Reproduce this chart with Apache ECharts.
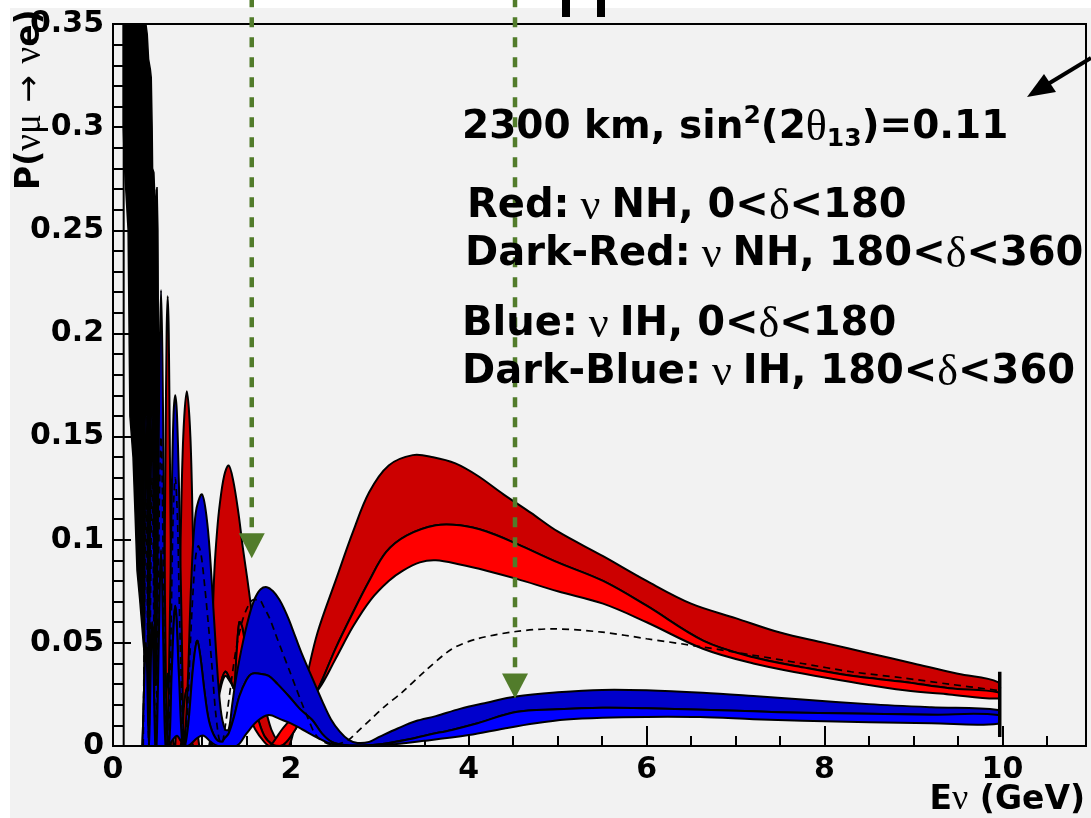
<!DOCTYPE html>
<html>
<head>
<meta charset="utf-8">
<title>P(numu -> nue) 2300 km</title>
<script src="https://cdn.jsdelivr.net/npm/echarts@6.0.0/dist/echarts.min.js"></script>
<style>
  html, body { margin: 0; padding: 0; background: #f2f2f2; }
  #chart { width: 1091px; height: 818px; }
</style>
</head>
<body>
<div id="chart"></div>
<script>
// values: [E (GeV), P]
const nhTop = [[0.47,0.20],[0.488,0.27],[0.505,0.20],[0.525,0.06],[0.55,0.0],[0.57,0.05],[0.59,0.14],[0.603,0.20],[0.615,0.218],[0.627,0.20],[0.64,0.14],[0.66,0.05],[0.68,0.0],[0.70,0.0],[0.73,0.04],[0.76,0.10],[0.79,0.15],[0.83,0.172],[0.87,0.15],[0.90,0.10],[0.935,0.04],[0.97,0.0],[1.08,0.0],[1.10,0.02],[1.12,0.06],[1.14,0.085],[1.17,0.104],[1.20,0.117],[1.25,0.131],[1.30,0.136],[1.35,0.129],[1.41,0.113],[1.46,0.096],[1.51,0.081],[1.55,0.068],[1.60,0.050],[1.65,0.034],[1.70,0.021],[1.78,0.008],[1.86,0.002],[1.93,0.0003],[1.98,0.0],[2.05,0.011],[2.17,0.032],[2.30,0.055],[2.51,0.081],[2.70,0.104],[2.88,0.123],[3.10,0.136],[3.37,0.141],[3.60,0.140],[3.85,0.137],[4.10,0.131],[4.39,0.122],[4.70,0.113],[5.00,0.104],[5.51,0.092],[6.00,0.080],[6.50,0.069],[7.00,0.062],[7.50,0.055],[8.00,0.050],[8.50,0.045],[9.00,0.040],[9.50,0.035],[9.95,0.031]];
const nhMid = [[0.47,0.0],[0.58,0.0],[0.60,0.025],[0.615,0.035],[0.63,0.025],[0.65,0.0],[0.76,0.0],[0.80,0.02],[0.83,0.028],[0.86,0.02],[0.90,0.0],[1.09,0.0],[1.14,0.012],[1.20,0.028],[1.26,0.036],[1.32,0.032],[1.36,0.028],[1.39,0.045],[1.42,0.060],[1.45,0.058],[1.49,0.048],[1.55,0.030],[1.62,0.015],[1.70,0.005],[1.80,0.0005],[1.88,0.0],[1.95,0.002],[2.05,0.008],[2.15,0.016],[2.32,0.029],[2.50,0.047],[2.69,0.064],[2.88,0.080],[3.07,0.094],[3.30,0.102],[3.63,0.107],[3.90,0.107],[4.20,0.104],[4.54,0.098],[5.00,0.089],[5.51,0.080],[6.00,0.068],[6.64,0.051],[7.20,0.043],[7.77,0.038],[8.30,0.034],[8.90,0.031],[9.40,0.028],[9.95,0.026]];
const nhLow = [[0.47,0.0],[1.09,0.0],[1.14,0.010],[1.20,0.026],[1.26,0.034],[1.32,0.031],[1.36,0.028],[1.40,0.027],[1.45,0.024],[1.52,0.016],[1.60,0.008],[1.70,0.002],[1.76,0.0],[1.82,0.003],[1.90,0.008],[2.00,0.013],[2.15,0.020],[2.32,0.028],[2.50,0.042],[2.70,0.058],[2.90,0.071],[3.10,0.080],[3.26,0.085],[3.45,0.089],[3.63,0.090],[3.90,0.088],[4.20,0.085],[4.54,0.081],[5.00,0.075],[5.51,0.069],[6.00,0.060],[6.64,0.047],[7.20,0.040],[7.77,0.035],[8.30,0.031],[8.90,0.027],[9.40,0.025],[9.95,0.023]];

const ihTop = [[0.33,0.0],[0.345,0.0],[0.355,0.09],[0.372,0.16],[0.39,0.09],[0.403,0.0],[0.415,0.09],[0.44,0.16],[0.462,0.09],[0.478,0.03],[0.49,0.05],[0.51,0.13],[0.525,0.19],[0.54,0.221],[0.555,0.19],[0.57,0.13],[0.59,0.05],[0.61,0.0],[0.635,0.05],[0.66,0.12],[0.68,0.160],[0.70,0.170],[0.72,0.160],[0.745,0.12],[0.775,0.05],[0.80,0.0],[0.84,0.03],[0.88,0.08],[0.93,0.113],[1.00,0.122],[1.06,0.108],[1.11,0.080],[1.16,0.045],[1.21,0.018],[1.26,0.008],[1.30,0.008],[1.34,0.020],[1.38,0.032],[1.44,0.046],[1.49,0.056],[1.55,0.066],[1.60,0.072],[1.66,0.076],[1.73,0.077],[1.80,0.075],[1.87,0.071],[1.93,0.066],[1.98,0.061],[2.05,0.053],[2.13,0.044],[2.24,0.033],[2.35,0.022],[2.45,0.013],[2.55,0.007],[2.65,0.003],[2.75,0.0015],[2.88,0.002],[3.00,0.0045],[3.20,0.0085],[3.40,0.012],[3.63,0.0145],[3.90,0.018],[4.20,0.021],[4.53,0.024],[5.00,0.026],[5.50,0.0272],[6.00,0.027],[6.63,0.0258],[7.20,0.0242],[7.75,0.0225],[8.50,0.0203],[9.20,0.0188],[9.95,0.0175]];
const ihMid = [[0.33,0.0],[0.372,0.05],[0.403,0.0],[0.44,0.06],[0.475,0.0],[0.49,0.0],[0.515,0.05],[0.54,0.095],[0.565,0.05],[0.59,0.0],[0.63,0.0],[0.66,0.035],[0.70,0.068],[0.74,0.035],[0.78,0.0],[0.81,0.0],[0.85,0.012],[0.90,0.038],[0.945,0.051],[0.98,0.044],[1.03,0.026],[1.08,0.012],[1.15,0.004],[1.22,0.002],[1.26,0.004],[1.30,0.006],[1.36,0.014],[1.42,0.024],[1.50,0.032],[1.56,0.035],[1.65,0.035],[1.75,0.034],[1.85,0.030],[1.98,0.024],[2.10,0.018],[2.24,0.0126],[2.35,0.006],[2.46,0.002],[2.60,0.0005],[2.80,0.0003],[3.03,0.001],[3.30,0.003],[3.55,0.0055],[3.81,0.0078],[4.10,0.011],[4.53,0.0165],[5.00,0.0178],[5.50,0.0185],[6.00,0.0183],[6.63,0.0176],[7.20,0.0168],[7.75,0.0161],[8.50,0.0156],[9.20,0.0152],[9.95,0.015]];
const ihLow = [[0.33,0.0],[0.62,0.0],[0.67,0.003],[0.72,0.005],[0.77,0.002],[0.84,0.0],[0.95,0.004],[1.02,0.005],[1.10,0.002],[1.18,0.0],[1.39,0.0],[1.50,0.006],[1.62,0.012],[1.75,0.015],[1.88,0.013],[2.00,0.011],[2.13,0.008],[2.30,0.004],[2.46,0.001],[2.70,0.0],[3.06,0.0005],[3.50,0.0025],[4.00,0.0053],[4.40,0.0085],[4.75,0.011],[5.10,0.0128],[5.50,0.0137],[6.00,0.0141],[6.60,0.014],[7.20,0.013],[7.75,0.0122],[8.50,0.0115],[9.20,0.011],[9.95,0.0108]];

const dashedCurve = [[0.34,0.0],[0.372,0.12],[0.403,0.0],[0.44,0.13],[0.478,0.0],[0.54,0.15],[0.60,0.0],[0.62,0.0],[0.65,0.05],[0.675,0.11],[0.70,0.13],[0.725,0.11],[0.75,0.06],[0.78,0.015],[0.80,0.0],[0.84,0.02],[0.87,0.05],[0.90,0.075],[0.93,0.092],[0.96,0.097],[0.99,0.093],[1.03,0.078],[1.07,0.060],[1.11,0.040],[1.15,0.018],[1.19,0.004],[1.22,0.001],[1.27,0.012],[1.32,0.028],[1.38,0.046],[1.45,0.060],[1.52,0.068],[1.58,0.071],[1.64,0.071],[1.70,0.067],[1.76,0.062],[1.83,0.054],[1.90,0.046],[1.98,0.037],[2.05,0.029],[2.13,0.020],[2.20,0.0126],[2.27,0.006],[2.35,0.0025],[2.45,0.0008],[2.55,0.0012],[2.65,0.003],[2.75,0.007],[2.90,0.013],[3.05,0.019],[3.25,0.026],[3.50,0.036],[3.81,0.047],[4.10,0.052],[4.53,0.0555],[4.94,0.0568],[5.50,0.0552],[6.00,0.052],[6.63,0.048],[7.20,0.044],[7.75,0.040],[8.30,0.036],[8.88,0.033],[9.40,0.030],[9.94,0.027]];

// dense low-energy oscillations, drawn as one black region
const massE  = [0.115,0.13,0.17,0.19,0.225,0.25,0.27,0.30,0.34,0.37,0.385,0.40,0.42,0.43,0.44,0.445,0.46,0.475,0.495,0.505,0.512,0.516];
const massLo = [0.30,0.28,0.25,0.16,0.14,0.11,0.085,0.071,0.05,0.036,0.03,0.025,0.017,0.014,0.010,0.009,0.006,0.004,0.001,0.0005,0.0,0.0];
const massHi = [0.35,0.35,0.35,0.35,0.35,0.35,0.35,0.35,0.35,0.35,0.345,0.333,0.328,0.324,0.30,0.28,0.278,0.26,0.271,0.25,0.16,0.0];

const edgeLine = [[0.12,0.0],[0.12,0.35]];
const endCap = [[9.97,0.0044],[9.97,0.036]];

const arrowE = [1.56, 4.52];
const arrowTip = [0.091, 0.023];
const arrowTop = 0.363;

const xTicks = { min: 0, max: 10.94, interval: 2 };
const yTicks = { min: 0, max: 0.35, interval: 0.05 };

const BOLD = 'DejaVu Sans';
const SERIF = 'Liberation Serif';

function band(upper, lower, fill) {
  const pts = upper.concat(lower.slice().reverse());
  return {
    type: 'custom',
    coordinateSystem: 'cartesian2d',
    silent: true,
    data: [[0, 0]],
    renderItem: function (params, api) {
      // keep the smoothed outline inside the plot frame
      const lo = api.coord([xTicks.min, yTicks.max]);
      const hi = api.coord([xTicks.max, yTicks.min]);
      return {
        type: 'polygon',
        shape: {
          points: pts.map(function (p) { return api.coord(p); }),
          smooth: 0.35,
          smoothConstraint: [lo, hi]
        },
        style: { fill: fill, stroke: '#000', lineWidth: 2, lineJoin: 'round' }
      };
    }
  };
}

const massUpper = massE.map(function (e, i) { return [e, massHi[i]]; });
const massLower = massE.map(function (e, i) { return [e, massLo[i]]; });

const chart = echarts.init(document.getElementById('chart'));

const labelRich = {
  b: { fontFamily: BOLD, fontWeight: 'bold', fontSize: 40, color: '#000' },
  t: { fontFamily: BOLD, fontWeight: 'bold', fontSize: 39, color: '#000' },
  g: { fontFamily: SERIF, fontSize: 44, color: '#000' },
  sup: { fontFamily: BOLD, fontWeight: 'bold', fontSize: 25, color: '#000', verticalAlign: 'top', lineHeight: 48 },
  sub: { fontFamily: BOLD, fontWeight: 'bold', fontSize: 25, color: '#000', verticalAlign: 'bottom', lineHeight: 42 }
};

function note(x, y, text) {
  return { type: 'text', x: x, y: y, z: 20,
    style: { text: text, rich: labelRich, verticalAlign: 'middle', align: 'left' } };
}

const option = {
  backgroundColor: '#f2f2f2',
  animation: false,
  grid: { left: 113, right: 5, top: 24, bottom: 72, containLabel: false, outerBoundsMode: 'none',
    show: true, borderColor: '#000', borderWidth: 2, backgroundColor: 'transparent' },
  xAxis: {
    type: 'value', min: xTicks.min, max: xTicks.max, interval: xTicks.interval,
    axisLine: { show: true, lineStyle: { color: '#000', width: 2 } },
    axisTick: { show: true, inside: true, length: 20, lineStyle: { color: '#000', width: 2 } },
    minorTick: { show: true, splitNumber: 4, length: 10, lineStyle: { color: '#000', width: 2 } },
    splitLine: { show: false },
    axisLabel: { color: '#000', fontFamily: BOLD, fontWeight: 'bold', fontSize: 30, margin: 9, showMaxLabel: false }
  },
  yAxis: {
    type: 'value', min: yTicks.min, max: yTicks.max, interval: yTicks.interval,
    axisLine: { show: true, lineStyle: { color: '#000', width: 2 } },
    axisTick: { show: true, inside: true, length: 18, lineStyle: { color: '#000', width: 2 } },
    minorTick: { show: true, splitNumber: 5, length: 10, lineStyle: { color: '#000', width: 2 } },
    splitLine: { show: false },
    axisLabel: { color: '#000', fontFamily: BOLD, fontWeight: 'bold', fontSize: 30, margin: 9 }
  },
  series: [
    band(nhTop, nhMid, '#cc0000'),
    band(nhMid, nhLow, '#ff0000'),
    {
      type: 'custom', coordinateSystem: 'cartesian2d', silent: true, data: [[0, 0]],
      renderItem: function (params, api) {
        const pts = massUpper.concat(massLower.slice().reverse());
        return { type: 'polygon', shape: { points: pts.map(function (p) { return api.coord(p); }) },
          style: { fill: '#000', stroke: '#000', lineWidth: 1.5 } };
      }
    },
    band(ihTop, ihMid, '#0000cc'),
    band(ihMid, ihLow, '#0000ff'),
    { type: 'line', data: edgeLine, symbol: 'none', silent: true, lineStyle: { color: '#000', width: 2 } },
    { type: 'line', data: dashedCurve, symbol: 'none', silent: true, z: 4, smooth: 0.3,
      lineStyle: { color: '#000', width: 1.7, type: [7, 5] } },
    { type: 'line', data: endCap, symbol: 'none', silent: true, z: 4, lineStyle: { color: '#000', width: 3.5 } },
    {
      type: 'custom', coordinateSystem: 'cartesian2d', silent: true, clip: false, z: 6,
      data: arrowE.map(function (e, i) { return [e, arrowTip[i]]; }),
      renderItem: function (params, api) {
        const tip = api.coord([api.value(0), api.value(1)]);
        const top = api.coord([api.value(0), arrowTop]);
        const headH = 25, headW = 13;
        return {
          type: 'group',
          children: [
            { type: 'line', shape: { x1: top[0], y1: top[1], x2: tip[0], y2: tip[1] - headH },
              style: { stroke: '#527c2b', lineWidth: 4.5, lineDash: [10, 10] } },
            { type: 'polygon', shape: { points: [[tip[0] - headW, tip[1] - headH], [tip[0] + headW, tip[1] - headH], [tip[0], tip[1]]] },
              style: { fill: '#527c2b' } }
          ]
        };
      }
    }
  ],
  graphic: [
    { type: 'rect', z: -5, shape: { x: 0, y: 0, width: 1091, height: 8 }, style: { fill: '#ffffff' } },
    { type: 'rect', z: -5, shape: { x: 0, y: 0, width: 10, height: 818 }, style: { fill: '#ffffff' } },
    { type: 'rect', z: 20, shape: { x: 562, y: 0, width: 8, height: 17 }, style: { fill: '#000' } },
    { type: 'rect', z: 20, shape: { x: 597, y: 0, width: 8, height: 17 }, style: { fill: '#000' } },
    { type: 'line', z: 20, shape: { x1: 1091, y1: 58, x2: 1048, y2: 84 }, style: { stroke: '#000', lineWidth: 4 } },
    { type: 'polygon', z: 20, shape: { points: [[1027, 97], [1044, 74], [1056, 92]] }, style: { fill: '#000' } },
    note(462, 128, '{t|2300 km, sin}{sup|2}{t|(2}{g|θ}{sub|13}{t|)=0.11}'),
    note(467, 207, '{b|Red:}{g| ν }{b|NH, 0<}{g|δ}{b|<180}'),
    note(465, 255, '{b|Dark-Red:}{g| ν }{b|NH, 180<}{g|δ}{b|<360}'),
    note(462, 325, '{b|Blue:}{g| ν }{b|IH, 0<}{g|δ}{b|<180}'),
    note(462, 373, '{b|Dark-Blue:}{g| ν }{b|IH, 180<}{g|δ}{b|<360}'),
    { type: 'text', x: 30, y: 190, rotation: Math.PI / 2, z: 20,
      style: { text: '{b|P(}{g|νμ}{b| }{a|→}{b| }{g|ν}{b|e)}', align: 'left', verticalAlign: 'middle',
        rich: {
          b: { fontFamily: BOLD, fontWeight: 'bold', fontSize: 33, color: '#000' },
          g: { fontFamily: SERIF, fontSize: 37, color: '#000' },
          a: { fontFamily: BOLD, fontSize: 33, color: '#000' }
        } } },
    { type: 'text', x: 1085, y: 800, z: 20,
      style: { text: '{b|E}{g|ν}{b| (GeV)}', align: 'right', verticalAlign: 'middle',
        rich: {
          b: { fontFamily: BOLD, fontWeight: 'bold', fontSize: 33, color: '#000' },
          g: { fontFamily: SERIF, fontSize: 36, color: '#000' }
        } } }
  ]
};

chart.setOption(option);
</script>
</body>
</html>
